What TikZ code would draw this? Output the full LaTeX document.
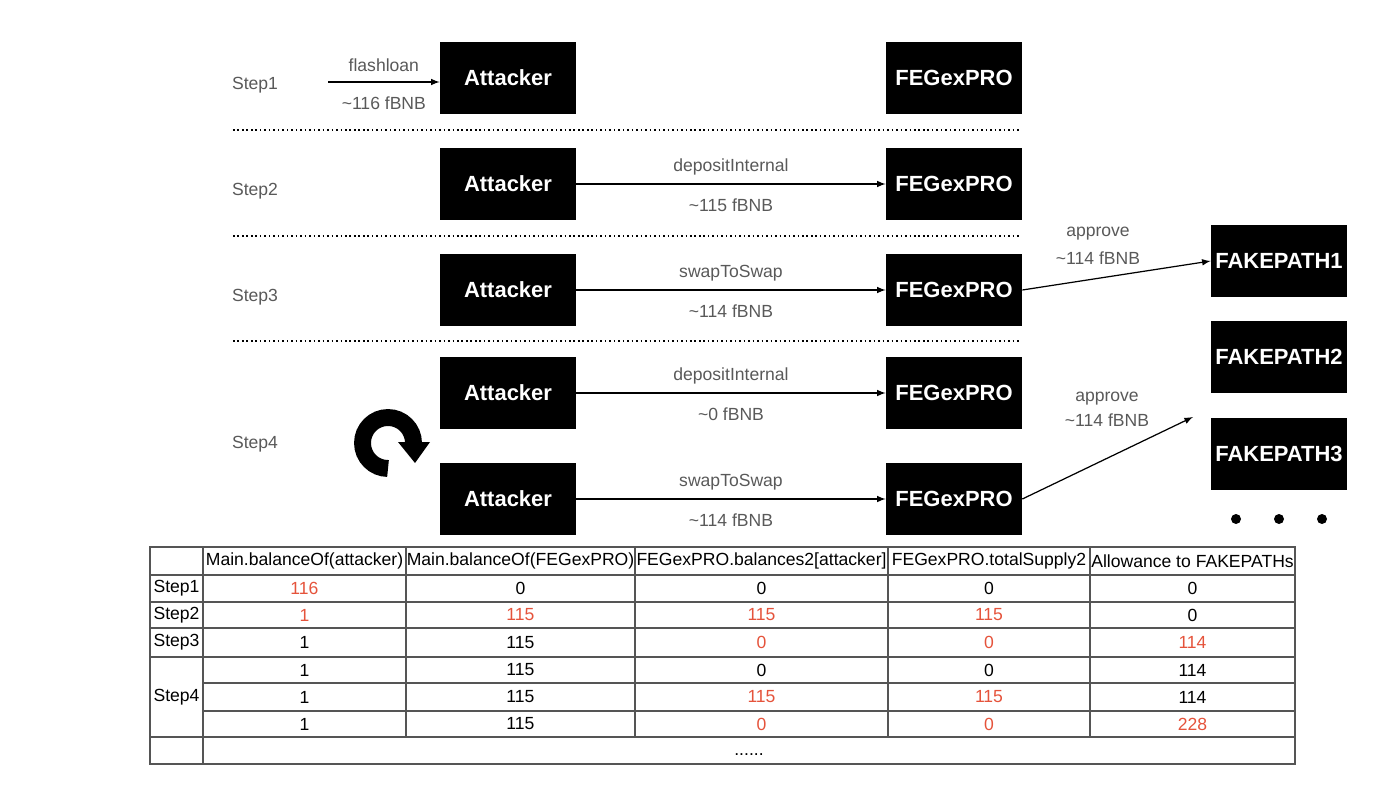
\documentclass[tikz,border=0pt]{standalone}
\usepackage{fontspec}
\setmainfont{Liberation Sans}
\usetikzlibrary{arrows,positioning,calc}

\definecolor{labelgray}{HTML}{595959}
\definecolor{hlred}{HTML}{E5533B}
\definecolor{gridgray}{HTML}{555555}
\newcommand{\hl}[1]{\textcolor{hlred}{#1}}
\newcommand{\tld}{\textasciitilde}

\tikzset{
  blackbox/.style={fill=black, text=white, font=\bfseries\fontsize{12.5}{15}\selectfont,
    minimum width=2.72cm, minimum height=1.44cm, inner sep=0pt},
  steplabel/.style={text=labelgray, font=\fontsize{10}{12}\selectfont},
  flowlabel/.style={text=labelgray, font=\fontsize{10}{12}\selectfont, inner sep=0pt},
  uplabel/.style={flowlabel, midway, yshift=9.5pt},
  downlabel/.style={flowlabel, midway, yshift=-12pt},
  flow/.style={->, line width=0.7pt},
  sepline/.style={line width=0.9pt, dash pattern=on 0.9pt off 1.65pt},
  cell/.style={font=\fontsize{10}{12}\selectfont, inner sep=0pt},
  grid/.style={gridgray, line width=0.6pt},
}

\begin{document}
\begin{tikzpicture}[x=0.02cm, y=-0.02cm, >=latex]
\useasboundingbox (0,0) rectangle (1400,787);

% steps
\node[steplabel] (step1) at (255,85) {Step1};
\node[steplabel] (step2) at (255,191) {Step2};
\node[steplabel] (step3) at (255,297) {Step3};
\node[steplabel] (step4) at (255,444) {Step4};

\foreach \y in {130,236,341} {
    \draw[sepline] (233,\y) -- (1020,\y);
}

% contracts
\node[blackbox] (att1) at (508,78) {Attacker};
\node[blackbox] (feg1) at (954,78) {FEGexPRO};
\node[blackbox] (att2) at (508,184) {Attacker};
\node[blackbox] (feg2) at (954,184) {FEGexPRO};
\node[blackbox] (att3) at (508,290) {Attacker};
\node[blackbox] (feg3) at (954,290) {FEGexPRO};
\node[blackbox] (att4) at (508,393) {Attacker};
\node[blackbox] (feg4) at (954,393) {FEGexPRO};
\node[blackbox] (att5) at (508,499) {Attacker};
\node[blackbox] (feg5) at (954,499) {FEGexPRO};
\node[blackbox] (fp1) at (1279,261) {FAKEPATH1};
\node[blackbox] (fp2) at (1279,357) {FAKEPATH2};
\node[blackbox] (fp3) at (1279,454) {FAKEPATH3};
\foreach \x in {1236,1279,1322} {
    \fill (\x,519) circle (5);
}

% transfers
\coordinate (lender) at (328,82);
\coordinate (fpnext) at (1193,417);
\draw[flow] (lender) -- (lender -| att1.west)
    node[uplabel] (loan) {flashloan}
    node[downlabel] (loanamt) {\tld116 fBNB};
\draw[flow] (att2) -- (feg2)
    node[uplabel] (dep1) {depositInternal}
    node[downlabel] (dep1amt) {\tld115 fBNB};
\draw[flow] (att3) -- (feg3)
    node[uplabel] (swap1) {swapToSwap}
    node[downlabel] (swap1amt) {\tld114 fBNB};
\draw[flow] (att4) -- (feg4)
    node[uplabel] (dep2) {depositInternal}
    node[downlabel] (dep2amt) {\tld0 fBNB};
\draw[flow] (att5) -- (feg5)
    node[uplabel] (swap2) {swapToSwap}
    node[downlabel] (swap2amt) {\tld114 fBNB};
\draw[flow] (feg3.east) -- (fp1.west);
\draw[flow] (feg5.east) -- (fpnext);
\node[flowlabel] (appr1) at (1098,234) {approve};
\node[flowlabel] (appr1amt) at (1098,258) {\tld114 fBNB};
\node[flowlabel] (appr2) at (1107,399) {approve};
\node[flowlabel] (appr2amt) at (1107,420) {\tld114 fBNB};

% loop mark
\draw[line width=9.6pt] (388,468.5) arc[start angle=90, end angle=360, radius=25.5];
\fill (398,442) -- (430,442) -- (415,463) -- cycle;

% table
\draw[grid] (150,547) rectangle (1295,764);
\foreach \y in {575,602,628,657,737} {
    \draw[grid] (150,\y) -- (1295,\y);
}
\foreach \y in {683,711} {
    \draw[grid] (203,\y) -- (1295,\y);
}
\draw[grid] (203,547) -- (203,764);
\foreach \x in {406,635,888,1090} {
    \draw[grid] (\x,547) -- (\x,737);
}
\foreach \x/\t [count=\i] in {304.5/{Main.balanceOf(attacker)}, 520.5/{Main.balanceOf(FEGexPRO)},
    761.5/{FEGexPRO.balances2[attacker]}, 989/{FEGexPRO.totalSupply2}, 1192.5/{Allowance to FAKEPATHs}} {
    \node[cell] (head\i) at (\x,561) {\t};
}
\foreach \y/\r in {588.5/1, 615/2, 642.5/3, 697/4} {
    \node[cell] (row\r) at (176.5,\y) {Step\r};
}
\foreach \y/\va/\vb/\vc/\vd/\ve [count=\r] in {
    588.5/\hl{116}/0/0/0/0,
    615/\hl{1}/\hl{115}/\hl{115}/\hl{115}/0,
    642.5/1/115/\hl{0}/\hl{0}/\hl{114},
    670/1/115/0/0/114,
    697/1/115/\hl{115}/\hl{115}/114,
    724/1/115/\hl{0}/\hl{0}/\hl{228}} {
    \node[cell] (mainatt\r) at (304.5,\y) {\va};
    \node[cell] (mainfeg\r) at (520.5,\y) {\vb};
    \node[cell] (bal\r) at (761.5,\y) {\vc};
    \node[cell] (supply\r) at (989,\y) {\vd};
    \node[cell] (allow\r) at (1192.5,\y) {\ve};
}
\node[cell] (more) at (749,755) {......};
\end{tikzpicture}
\end{document}
